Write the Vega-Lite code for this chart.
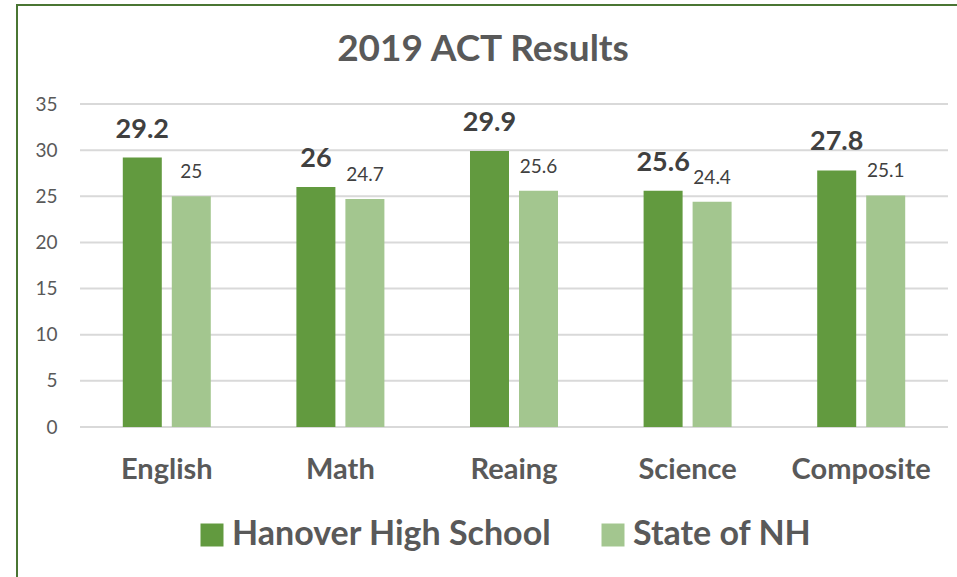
{
  "$schema": "https://vega.github.io/schema/vega-lite/v6.json",
  "width": 942,
  "height": 574,
  "autosize": {"type": "none"},
  "padding": {"left": 17, "top": 5, "right": 0, "bottom": 0},
  "background": "white",
  "config": {"view": {"stroke": "#4a7533", "strokeWidth": 2}, "font": "Lato"},
  "title": {"text": "2019 ACT Results", "font": "Lato", "fontSize": 37, "fontWeight": "bold", "color": "#595959", "anchor": "middle", "offset": -64, "dx": -5},
  "data": {"values": [
    {"subject": "English", "school": "Hanover High School", "value": 29.2},
    {"subject": "English", "school": "State of NH", "value": 25},
    {"subject": "Math", "school": "Hanover High School", "value": 26},
    {"subject": "Math", "school": "State of NH", "value": 24.7},
    {"subject": "Reaing", "school": "Hanover High School", "value": 29.9},
    {"subject": "Reaing", "school": "State of NH", "value": 25.6},
    {"subject": "Science", "school": "Hanover High School", "value": 25.6},
    {"subject": "Science", "school": "State of NH", "value": 24.4},
    {"subject": "Composite", "school": "Hanover High School", "value": 27.8},
    {"subject": "Composite", "school": "State of NH", "value": 25.1}
  ]},
  "encoding": {
    "y": {"field": "value", "type": "quantitative",
      "scale": {"domain": [-16.47, 45.73], "nice": false, "zero": false},
      "axis": {"values": [0, 5, 10, 15, 20, 25, 30, 35], "title": null, "grid": false, "domain": false, "ticks": false, "tickSize": 0, "labelPadding": 0, "offset": -40, "labelFont": "Lato", "labelFontSize": 19, "labelColor": "#595959"}}
  },
  "layer": [
    {
      "data": {"values": [{"value": 0}, {"value": 5}, {"value": 10}, {"value": 15}, {"value": 20}, {"value": 25}, {"value": 30}, {"value": 35}]},
      "mark": {"type": "rule", "color": "#d9d9d9", "strokeWidth": 2},
      "encoding": {
        "x": {"datum": 0, "type": "quantitative", "scale": {"domain": [-0.07258, 1.01267], "nice": false, "zero": false}, "axis": null},
        "x2": {"datum": 1}
      }
    },
    {
      "encoding": {
        "x": {"field": "subject", "type": "nominal", "sort": null,
          "scale": {"paddingInner": 0, "paddingOuter": 0.2131, "align": 0.8514},
          "axis": {"title": null, "labelFont": "Lato", "labelFontSize": 29, "labelFontWeight": "bold", "labelColor": "#595959", "domain": false, "ticks": false, "tickSize": 0, "labelPadding": 0, "labelBaseline": "alphabetic", "offset": -101, "labelAngle": 0, "grid": false}},
        "xOffset": {"field": "school", "type": "nominal",
          "scale": {"domain": ["Hanover High School", "State of NH"], "paddingInner": 0.204, "paddingOuter": 0.8735}}
      },
      "layer": [
        {
          "mark": {"type": "bar"},
          "encoding": {
            "color": {"field": "school", "type": "nominal",
              "scale": {"domain": ["Hanover High School", "State of NH"], "range": ["#629A3F", "#A3C68F"]},
              "legend": {"orient": "none", "legendX": 178, "legendY": 513, "direction": "horizontal", "title": null, "labelFont": "Lato", "labelFontSize": 34, "labelFontWeight": "bold", "labelColor": "#595959", "symbolType": "square", "symbolSize": 529, "symbolStrokeWidth": 0, "symbolOpacity": 1, "labelOffset": 3, "columnPadding": 44, "labelLimit": 600, "padding": 0}}
          }
        },
        {
          "transform": [{"filter": "datum.school === 'Hanover High School'"}],
          "mark": {"type": "text", "baseline": "alphabetic", "dy": -20, "font": "Lato", "fontSize": 27, "fontWeight": "bold", "color": "#404040"},
          "encoding": {"text": {"field": "value", "type": "quantitative"}}
        },
        {
          "transform": [{"filter": "datum.school === 'State of NH'"}],
          "mark": {"type": "text", "baseline": "alphabetic", "dy": -18, "font": "Lato", "fontSize": 19, "color": "#404040"},
          "encoding": {"text": {"field": "value", "type": "quantitative"}}
        }
      ]
    }
  ],
  "resolve": {"scale": {"x": "independent"}, "axis": {"x": "independent"}}
}
